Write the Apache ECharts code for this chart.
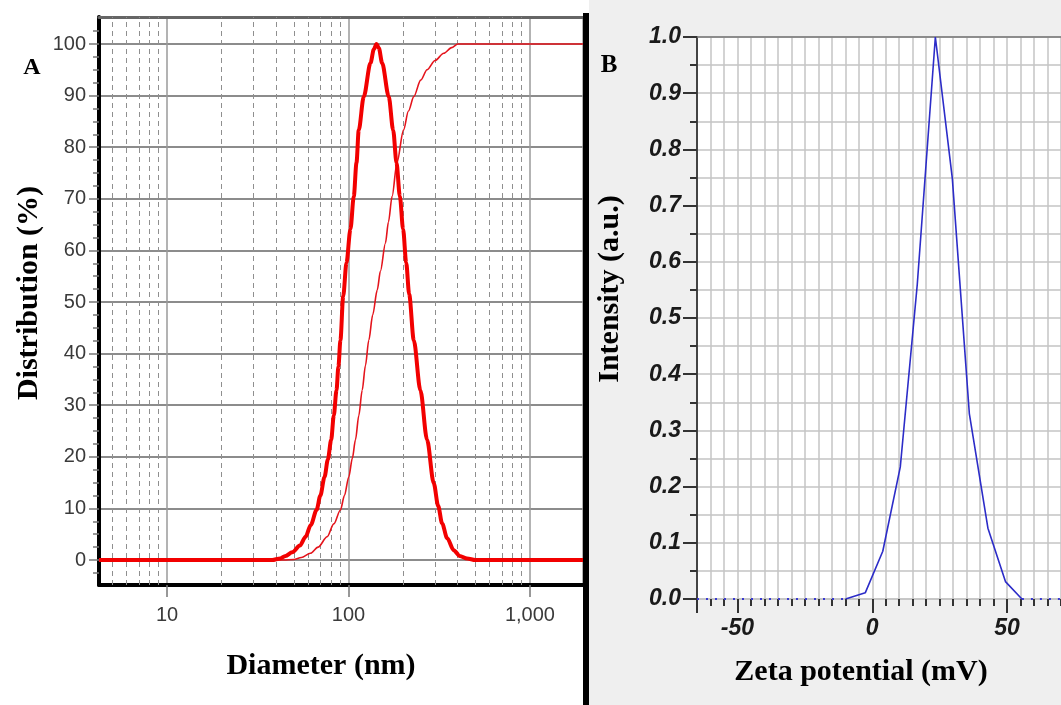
<!DOCTYPE html>
<html>
<head>
<meta charset="utf-8">
<script src="https://cdn.jsdelivr.net/npm/echarts@6/dist/echarts.min.js"></script>
<style>
  html, body { margin: 0; padding: 0; background: #fff; }
  #chart { width: 1061px; height: 705px; }
</style>
</head>
<body>
<div id="chart"></div>
<script>
// ---- Panel A: hydrodynamic size distribution (DLS) ----
const sizeDiameters = [4.22, 38, 42, 45, 49, 54, 58, 62, 66.7, 70, 73.8, 77, 80.3, 83, 85.9, 88, 90.3, 93.5, 97.5, 102.5, 107, 110.7, 113.9, 121.4, 132.2, 138, 142.6, 147, 153.3, 166.7, 176.3, 183.9, 191.9, 200, 208, 216, 229, 249, 271, 295, 312, 328, 350, 380, 410, 450, 500, 1960];
const sizeDistribution = [0, 0, 0.3, 0.8, 1.5, 2.8, 4.5, 6.8, 9.7, 12.5, 16.1, 19.5, 23.3, 28, 32.9, 37.5, 42.6, 51.1, 57.6, 64.1, 70.5, 77, 83.3, 89.8, 96.3, 99, 100, 99.2, 96.3, 89.8, 83.3, 77, 70.5, 64.1, 57.6, 51.5, 42.6, 32.9, 23.3, 14.9, 10.5, 7.1, 4.2, 1.9, 0.8, 0.3, 0, 0];

const cumulativeDiameters = [4.22, 44, 50, 55, 61.7, 68, 76.3, 83, 90.3, 95, 100.4, 105, 109.3, 114, 119, 124, 129.4, 136, 144, 150, 159.8, 166, 174, 185, 201, 214, 229, 250, 271, 300, 335, 370, 400, 1960];
const cumulativeValues = [0, 0, 0.1, 0.5, 1.3, 2.5, 4.5, 7, 9.7, 12.5, 16.1, 19.7, 23.3, 28, 32.9, 37.7, 42.6, 47.5, 52.3, 56, 61.4, 65.5, 70.5, 77, 83.3, 87, 89.8, 93, 95, 96.8, 98.2, 99.3, 100, 100];

const sizeTickValues = [10, 100, 1000];
const sizeTickLabels = ['10', '100', '1,000'];
const sizeMinorGrid = [5, 6, 7, 8, 9, 20, 30, 40, 50, 60, 70, 80, 90, 200, 300, 400, 500, 600, 700, 800, 900];
const percentTicks = [0, 10, 20, 30, 40, 50, 60, 70, 80, 90, 100];

// ---- Panel B: zeta potential distribution ----
const zetaPotential = [-9.9, -2.6, 3.9, 10.4, 16.7, 23.4, 29.7, 36.0, 42.9, 49.4, 55.5];
const zetaIntensity = [0, 0.011, 0.085, 0.235, 0.56, 1.0, 0.748, 0.33, 0.126, 0.031, 0];
const zetaBaselineLeft = [[-65, 0], [-9.9, 0]];
const zetaBaselineRight = [[55.5, 0], [70, 0]];
const zetaLabels = [-50, 0, 50];
const zetaMajorTicks = [-65, -50, 0, 50];

// minor ticks on the percent axis every 2.5 between the labelled ones
const percentMinorTicks = [];
for (let v = -2.5; v <= 102.5; v += 2.5) {
  if (Math.abs(v % 10) > 1e-9) percentMinorTicks.push(v);
}

const zip = (xs, ys) => xs.map((x, i) => [x, ys[i]]);

const SANS = '"Liberation Sans", Arial, sans-serif';
const SERIF = '"Liberation Serif", "Times New Roman", serif';

const pctMin = -4.84, pctMax = 105.23;
const dMin = 4.22, dMax = 1960;
const zMin = -65, zMax = 70;

const chart = echarts.init(document.getElementById('chart'), null, { renderer: 'canvas' });

chart.setOption({
  animation: false,
  backgroundColor: '#fff',
  grid: [
    { left: 99, right: 478, top: 17, bottom: 120, outerBoundsMode: 'none', containLabel: false },
    { left: 697, right: 0, top: 37, bottom: 106, outerBoundsMode: 'none', containLabel: false,
      show: true, backgroundColor: '#fff', borderWidth: 0 }
  ],
  xAxis: [
    { // A: diameter, log scale
      type: 'log', logBase: 10, gridIndex: 0, position: 'bottom', min: dMin, max: dMax,
      axisLine: { onZero: false, lineStyle: { color: '#000', width: 4 } },
      axisTick: { length: 12, lineStyle: { color: '#777', width: 1.5 } },
      minorTick: { show: false },
      axisLabel: {
        margin: 20, fontSize: 20, color: '#3a3a3a', fontFamily: SANS,
        showMinLabel: false, showMaxLabel: false,
        formatter: v => {
          const i = sizeTickValues.findIndex(t => Math.abs(t - v) / t < 1e-6);
          return i >= 0 ? sizeTickLabels[i] : '';
        }
      },
      splitLine: { show: true, lineStyle: { color: '#9a9a9a', width: 1.5 } },
      name: 'Diameter (nm)', nameLocation: 'middle', nameGap: 66,
      nameTextStyle: { fontFamily: SERIF, fontWeight: 'bold', fontSize: 30, color: '#000', padding: [0, 40, 0, 0] }
    },
    { // A: top frame
      type: 'log', logBase: 10, gridIndex: 0, position: 'top', min: dMin, max: dMax,
      axisLine: { onZero: false, lineStyle: { color: '#666', width: 3 } },
      axisTick: { show: false }, axisLabel: { show: false }, splitLine: { show: false }
    },
    { // B: zeta potential
      type: 'value', gridIndex: 1, position: 'bottom', min: zMin, max: zMax, interval: 5,
      axisLine: { onZero: false, lineStyle: { color: '#c4c4c4', width: 1.5 } },
      axisTick: { length: 7, lineStyle: { color: '#333', width: 2 } },
      axisLabel: {
        margin: 18, fontSize: 23, fontWeight: 'bold', fontStyle: 'italic', color: '#1a1a1a', fontFamily: SANS,
        formatter: v => (zetaLabels.some(t => Math.abs(t - v) < 1e-6) ? String(Math.round(v)) : '')
      },
      splitLine: { show: true, lineStyle: { color: '#c4c4c4', width: 1.5 } },
      name: 'Zeta potential (mV)', nameLocation: 'middle', nameGap: 58,
      nameTextStyle: { fontFamily: SERIF, fontWeight: 'bold', fontSize: 30, color: '#000', padding: [0, 36, 0, 0] }
    },
    { // B: long ticks at the labelled values
      type: 'value', gridIndex: 1, position: 'bottom', min: zMin, max: zMax,
      axisLine: { show: false, onZero: false },
      axisTick: { show: true, length: 14, customValues: zetaMajorTicks, lineStyle: { color: '#333', width: 2 } },
      axisLabel: { show: false }, splitLine: { show: false }
    },
    { // B: top frame
      type: 'value', gridIndex: 1, position: 'top', min: zMin, max: zMax,
      axisLine: { onZero: false, lineStyle: { color: '#777', width: 1.5 } },
      axisTick: { show: false }, axisLabel: { show: false }, splitLine: { show: false }
    }
  ],
  yAxis: [
    { // A: distribution %
      type: 'value', gridIndex: 0, position: 'left', min: pctMin, max: pctMax,
      axisLine: { onZero: false, lineStyle: { color: '#000', width: 4 } },
      axisTick: { length: 10, customValues: percentTicks, lineStyle: { color: '#777', width: 1.5 } },
      axisLabel: { margin: 13, fontSize: 20, color: '#3a3a3a', fontFamily: SANS, customValues: percentTicks },
      splitLine: { show: true, lineStyle: { color: '#8c8c8c', width: 2 } },
      name: 'Distribution (%)', nameLocation: 'middle', nameGap: 55,
      nameTextStyle: { fontFamily: SERIF, fontWeight: 'bold', fontSize: 30, color: '#000', padding: [0, 0, 0, 16] }
    },
    { // A: minor ticks
      type: 'value', gridIndex: 0, position: 'left', min: pctMin, max: pctMax,
      axisLine: { show: false, onZero: false },
      axisTick: { show: true, length: 6, customValues: percentMinorTicks, lineStyle: { color: '#777', width: 1.5 } },
      axisLabel: { show: false }, splitLine: { show: false }
    },
    { // B: intensity
      type: 'value', gridIndex: 1, position: 'left', min: 0, max: 1, interval: 0.1,
      axisLine: { onZero: false, lineStyle: { color: '#444', width: 2 } },
      axisTick: { length: 14, lineStyle: { color: '#333', width: 2 } },
      minorTick: { show: true, splitNumber: 2, length: 7, lineStyle: { color: '#333', width: 2 } },
      axisLabel: {
        margin: 16, fontSize: 23, fontWeight: 'bold', fontStyle: 'italic', color: '#1a1a1a', fontFamily: SANS,
        formatter: v => v.toFixed(1)
      },
      splitLine: { show: true, lineStyle: { color: '#c4c4c4', width: 1.5 } },
      minorSplitLine: { show: true, lineStyle: { color: '#c4c4c4', width: 1.5 } },
      name: 'Intensity (a.u.)', nameLocation: 'middle', nameGap: 72,
      nameTextStyle: { fontFamily: SERIF, fontWeight: 'bold', fontSize: 30, color: '#000', padding: [0, 0, 0, 58] }
    }
  ],
  series: [
    {
      name: 'Cumulative', type: 'line', xAxisIndex: 0, yAxisIndex: 0, z: 4,
      data: zip(cumulativeDiameters, cumulativeValues),
      showSymbol: false, smooth: 0.3, smoothMonotone: 'x',
      lineStyle: { color: '#e4141c', width: 1.6 },
      markLine: {
        z: 1, silent: true, symbol: ['none', 'none'], label: { show: false },
        lineStyle: { color: '#8f8f8f', width: 1, type: [5, 4] },
        data: sizeMinorGrid.map(v => ({ xAxis: v }))
      }
    },
    {
      name: 'Distribution', type: 'line', xAxisIndex: 0, yAxisIndex: 0, z: 5,
      data: zip(sizeDiameters, sizeDistribution),
      showSymbol: false, smooth: 0.3, smoothMonotone: 'x',
      lineStyle: { color: '#f20000', width: 4 }
    },
    {
      name: 'Baseline left', type: 'line', xAxisIndex: 2, yAxisIndex: 2, z: 4,
      data: zetaBaselineLeft, showSymbol: false,
      lineStyle: { color: '#3a3ad0', width: 2, type: [2, 7] }
    },
    {
      name: 'Baseline right', type: 'line', xAxisIndex: 2, yAxisIndex: 2, z: 4,
      data: zetaBaselineRight, showSymbol: false,
      lineStyle: { color: '#3a3ad0', width: 2, type: [2, 7] }
    },
    {
      name: 'Zeta', type: 'line', xAxisIndex: 2, yAxisIndex: 2, z: 5,
      data: zip(zetaPotential, zetaIntensity), showSymbol: false,
      lineStyle: { color: '#2c2cc8', width: 1.6 }
    }
  ],
  graphic: [
    { type: 'rect', z: -10, silent: true, shape: { x: 589, y: 0, width: 472, height: 705 }, style: { fill: '#efefef' } },
    { type: 'rect', z: 100, silent: true, shape: { x: 583, y: 13, width: 6, height: 692 }, style: { fill: '#000' } },
    { type: 'text', z: 100, silent: true,
      style: { text: 'A', x: 32, y: 68, font: 'bold 24px ' + SERIF, fill: '#000', align: 'center', verticalAlign: 'middle', textAlign: 'center', textVerticalAlign: 'middle' } },
    { type: 'text', z: 100, silent: true,
      style: { text: 'B', x: 609, y: 66, font: 'bold 25px ' + SERIF, fill: '#000', align: 'center', verticalAlign: 'middle', textAlign: 'center', textVerticalAlign: 'middle' } }
  ]
});
</script>
</body>
</html>
